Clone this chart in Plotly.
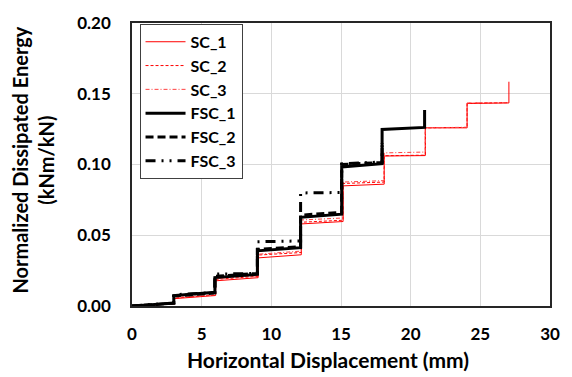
import plotly.graph_objects as go

# ---- data ----
sc1_x = [0, 3.05, 3.05, 6.0, 6.0, 9.05, 9.05, 12.15, 12.15, 15.15, 15.15, 18.1, 18.1, 21.05, 21.05, 24.05, 24.05, 27.05, 27.05]
sc1_y = [0, 0.0015, 0.0052, 0.0074, 0.0178, 0.0200, 0.0340, 0.0362, 0.0580, 0.0597, 0.0849, 0.0861, 0.1060, 0.1063, 0.1259, 0.1259, 0.1431, 0.1435, 0.1585]

sc2_x = [0, 3.05, 3.05, 6.0, 6.0, 9.05, 9.05, 12.15, 12.15, 15.15, 15.15, 18.1, 18.1, 21.05, 21.05, 24.05, 24.05, 27.05]
sc2_y = [0, 0.0016, 0.0056, 0.0078, 0.0188, 0.0210, 0.0360, 0.0378, 0.0592, 0.0606, 0.0866, 0.0876, 0.1062, 0.1066, 0.1259, 0.1262, 0.1433, 0.1437]

sc3_x = [0, 3.05, 3.05, 6.0, 6.0, 9.05, 9.05, 12.15, 12.15, 15.15, 15.15, 18.1, 18.1, 21.05, 21.05, 24.05, 24.05, 27.05]
sc3_y = [0, 0.0016, 0.0060, 0.0080, 0.0192, 0.0215, 0.0366, 0.0388, 0.0608, 0.0622, 0.0876, 0.0886, 0.1082, 0.1088, 0.1260, 0.1263, 0.1435, 0.1437]

fsc1_x = [0, 3.0, 3.0, 5.95, 5.95, 9.0, 9.0, 12.1, 12.1, 15.05, 15.05, 17.95, 17.95, 21.0, 21.0]
fsc1_y = [0, 0.0020, 0.0074, 0.0097, 0.0201, 0.0224, 0.0390, 0.0412, 0.0627, 0.0649, 0.0983, 0.1006, 0.1247, 0.1262, 0.1385]

fsc2_x = [0, 3.0, 3.0, 5.95, 5.95, 9.0, 9.0, 12.1, 12.1, 15.05, 15.05, 17.95, 17.95]
fsc2_y = [0, 0.0020, 0.0070, 0.0092, 0.0210, 0.0230, 0.0400, 0.0420, 0.0642, 0.0662, 0.1000, 0.1015, 0.1150]

fsc3_x = [0, 3.0, 3.0, 5.95, 5.95, 9.0, 9.0, 12.1, 12.1, 15.05, 15.05, 17.95, 17.95]
fsc3_y = [0, 0.0022, 0.0080, 0.0095, 0.0225, 0.0230, 0.0454, 0.0460, 0.0799, 0.0802, 0.1004, 0.1018, 0.1165]

x_ticks = [0, 5, 10, 15, 20, 25, 30]
y_ticks = [0.00, 0.05, 0.10, 0.15, 0.20]
y_tick_text = ["0.00", "0.05", "0.10", "0.15", "0.20"]

FONT = "Lato"

series = [
    ("SC_1", sc1_x, sc1_y, dict(color="#ff0000", width=1, dash="solid")),
    ("SC_2", sc2_x, sc2_y, dict(color="#ff0000", width=1, dash="3px,2px")),
    ("SC_3", sc3_x, sc3_y, dict(color="#ff4040", width=1, dash="4px,2px,1px,2px")),
    ("FSC_1", fsc1_x, fsc1_y, dict(color="#000000", width=3, dash="solid")),
    ("FSC_2", fsc2_x, fsc2_y, dict(color="#000000", width=3, dash="8px,4px")),
    ("FSC_3", fsc3_x, fsc3_y, dict(color="#000000", width=3, dash="10px,6px,2px,6px,2px,6px")),
]

fig = go.Figure()
for name, xs, ys, line in series:
    fig.add_trace(go.Scatter(x=xs, y=ys, mode="lines", name=name, line=line))

fig.update_layout(
    width=572, height=377,
    margin=dict(l=132, r=14, t=16, b=71),
    paper_bgcolor="white", plot_bgcolor="white",
    font=dict(family=FONT, color="#000000"),
    showlegend=True,
    legend=dict(
        x=0.018, y=0.997, xanchor="left", yanchor="top",
        bgcolor="white", bordercolor="#404040", borderwidth=1,
        font=dict(family=FONT, size=16, color="#000000", weight="bold"),
        tracegroupgap=0, itemwidth=40,
    ),
    xaxis=dict(
        range=[0, 30], tickvals=x_ticks, ticktext=[str(v) for v in x_ticks],
        showgrid=True, gridcolor="#d9d9d9", gridwidth=1,
        showline=True, linecolor="#262626", linewidth=1.5, mirror=True,
        ticks="", zeroline=False, ticklabelstandoff=12,
        tickfont=dict(family=FONT, size=17, weight="bold"),
    ),
    yaxis=dict(
        range=[0, 0.2], tickvals=y_ticks, ticktext=y_tick_text,
        showgrid=True, gridcolor="#d9d9d9", gridwidth=1,
        showline=True, linecolor="#262626", linewidth=1.5, mirror=True,
        ticks="", zeroline=False, ticklabelstandoff=16,
        tickfont=dict(family=FONT, size=17, weight="bold"),
    ),
    annotations=[
        dict(text="Horizontal Displacement (mm)", xref="paper", yref="paper",
             x=0.47, y=-0.19, xanchor="center", yanchor="middle", showarrow=False,
             font=dict(family=FONT, size=21, weight="bold")),
        dict(text="Normalized Dissipated Energy<br>(kNm/kN)", xref="paper", yref="paper",
             x=-0.236, y=0.515, xanchor="center", yanchor="middle", showarrow=False,
             textangle=-90, font=dict(family=FONT, size=20, weight="bold")),
    ],
)

fig.write_html("out.html")
